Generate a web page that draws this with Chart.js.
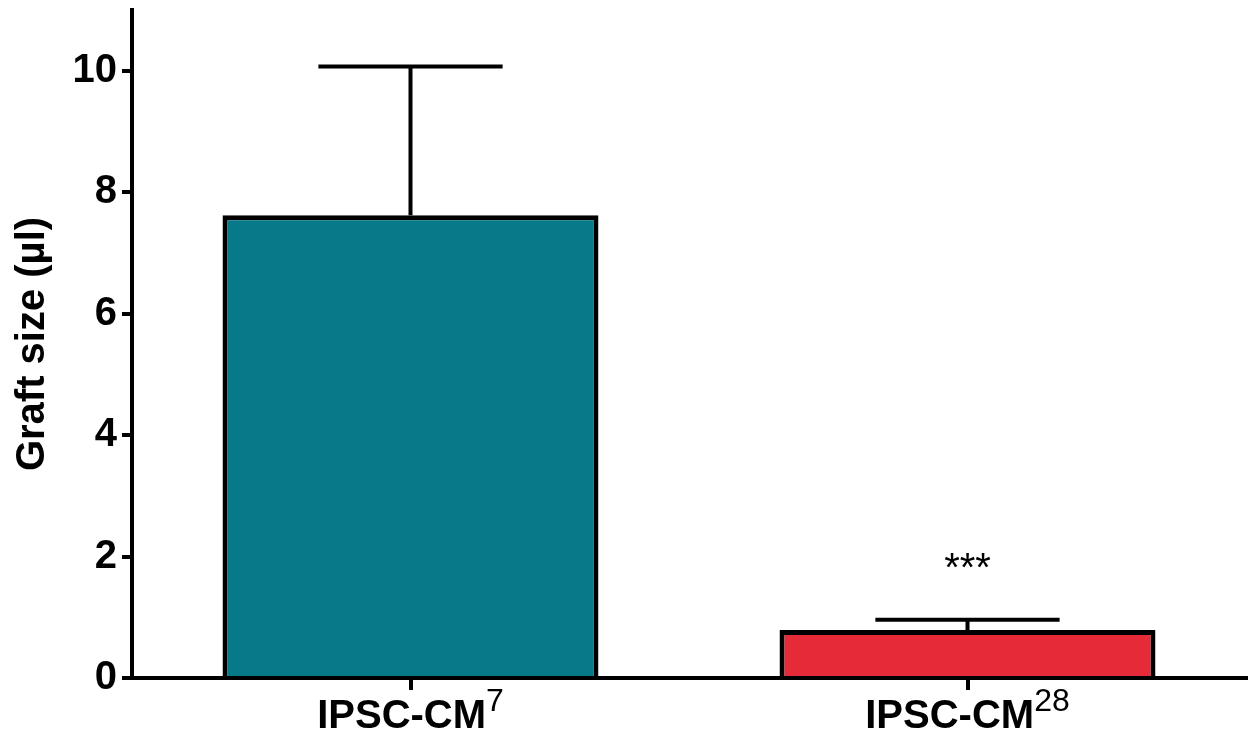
<!DOCTYPE html>
<html>
<head>
<meta charset="utf-8">
<script src="https://cdn.jsdelivr.net/npm/chart.js@4"></script>
<style>
    body { margin: 0; background: #fff; }
    #wrap { width: 1251px; height: 736px; }
</style>
</head>
<body>
<div id="wrap"><canvas id="myChart"></canvas></div>
<script>
// values
const categories = ['IPSC-CM', 'IPSC-CM'];
const superscripts = ['7', '28'];
const meanValues = [7.62, 0.79];
const semValues = [2.45, 0.17];
const significance = ['', '***'];
const yTicks = [0, 2, 4, 6, 8, 10];
const barColors = ['#077a8a', '#e62a38'];

const fontFamily = '"Liberation Sans", Arial, Helvetica, sans-serif';

// error bars (upper half only) and significance stars
const errorBarPlugin = {
    id: 'errorBars',
    afterDatasetsDraw(chart) {
        const ctx = chart.ctx;
        const yScale = chart.scales.y;
        const meta = chart.getDatasetMeta(0);
        ctx.save();
        ctx.strokeStyle = '#000';
        ctx.lineWidth = 4;
        meta.data.forEach((bar, i) => {
            const yMean = yScale.getPixelForValue(meanValues[i]);
            const yTop = yScale.getPixelForValue(meanValues[i] + semValues[i]);
            const half = bar.width * 0.245;
            ctx.beginPath();
            ctx.moveTo(bar.x, yMean);
            ctx.lineTo(bar.x, yTop);
            ctx.moveTo(bar.x - half, yTop);
            ctx.lineTo(bar.x + half, yTop);
            ctx.stroke();

            if (significance[i]) {
                ctx.fillStyle = '#000';
                ctx.font = '40px ' + fontFamily;
                ctx.textAlign = 'center';
                ctx.textBaseline = 'alphabetic';
                ctx.fillText(significance[i], bar.x, yTop - 39);
            }
        });
        ctx.restore();
    }
};

// x labels with a superscript part
const xLabelPlugin = {
    id: 'xLabels',
    afterDraw(chart) {
        const ctx = chart.ctx;
        const xScale = chart.scales.x;
        const mainFont = 'bold 40px ' + fontFamily;
        const supFont = '32px ' + fontFamily;
        ctx.save();
        ctx.fillStyle = '#000';
        ctx.textBaseline = 'alphabetic';
        ctx.textAlign = 'left';
        categories.forEach((label, i) => {
            const x = xScale.getPixelForTick(i);
            ctx.font = mainFont;
            const w1 = ctx.measureText(label).width;
            ctx.font = supFont;
            const w2 = ctx.measureText(superscripts[i]).width;
            const start = x - (w1 + w2) / 2;
            ctx.font = mainFont;
            ctx.fillText(label, start, xScale.top + 50);
            ctx.font = supFont;
            ctx.fillText(superscripts[i], start + w1, xScale.top + 33);
        });
        ctx.restore();
    }
};

const ctx = document.getElementById('myChart').getContext('2d');

window.myChart = new Chart(ctx, {
    type: 'bar',
    data: {
        labels: categories,
        datasets: [{
            data: meanValues,
            backgroundColor: barColors,
            borderColor: '#000',
            borderWidth: 5,
            barPercentage: 0.675,
            categoryPercentage: 1
        }]
    },
    options: {
        responsive: true,
        maintainAspectRatio: false,
        animation: false,
        layout: {
            padding: { top: 10, right: 5, bottom: 0, left: 0 }
        },
        scales: {
            x: {
                offset: true,
                grid: {
                    offset: false,
                    drawOnChartArea: false,
                    color: '#000',
                    lineWidth: 4,
                    tickLength: 12
                },
                border: { color: '#000', width: 4 },
                ticks: { display: false },
                afterFit: scale => {
                    scale.height = 58;
                    scale.paddingLeft = 0;
                    scale.paddingRight = 0;
                }
            },
            y: {
                min: 0,
                max: 11,
                afterBuildTicks: scale => {
                    scale.ticks = yTicks.map(v => ({ value: v }));
                },
                grid: {
                    drawOnChartArea: false,
                    color: '#000',
                    lineWidth: 4,
                    tickLength: 10
                },
                border: { color: '#000', width: 4 },
                ticks: {
                    color: '#000',
                    padding: 5,
                    font: { family: fontFamily, size: 40, weight: 'bold' }
                },
                title: {
                    display: true,
                    text: 'Graft size (µl)',
                    color: '#000',
                    padding: { top: 9, bottom: 0 },
                    font: { family: fontFamily, size: 40, weight: 'bold' }
                },
                afterFit: scale => {
                    scale.width = 132;
                    scale.paddingTop = 0;
                    scale.paddingBottom = 0;
                }
            }
        },
        plugins: {
            legend: { display: false },
            tooltip: { enabled: false }
        }
    },
    plugins: [errorBarPlugin, xLabelPlugin]
});
</script>
</body>
</html>
